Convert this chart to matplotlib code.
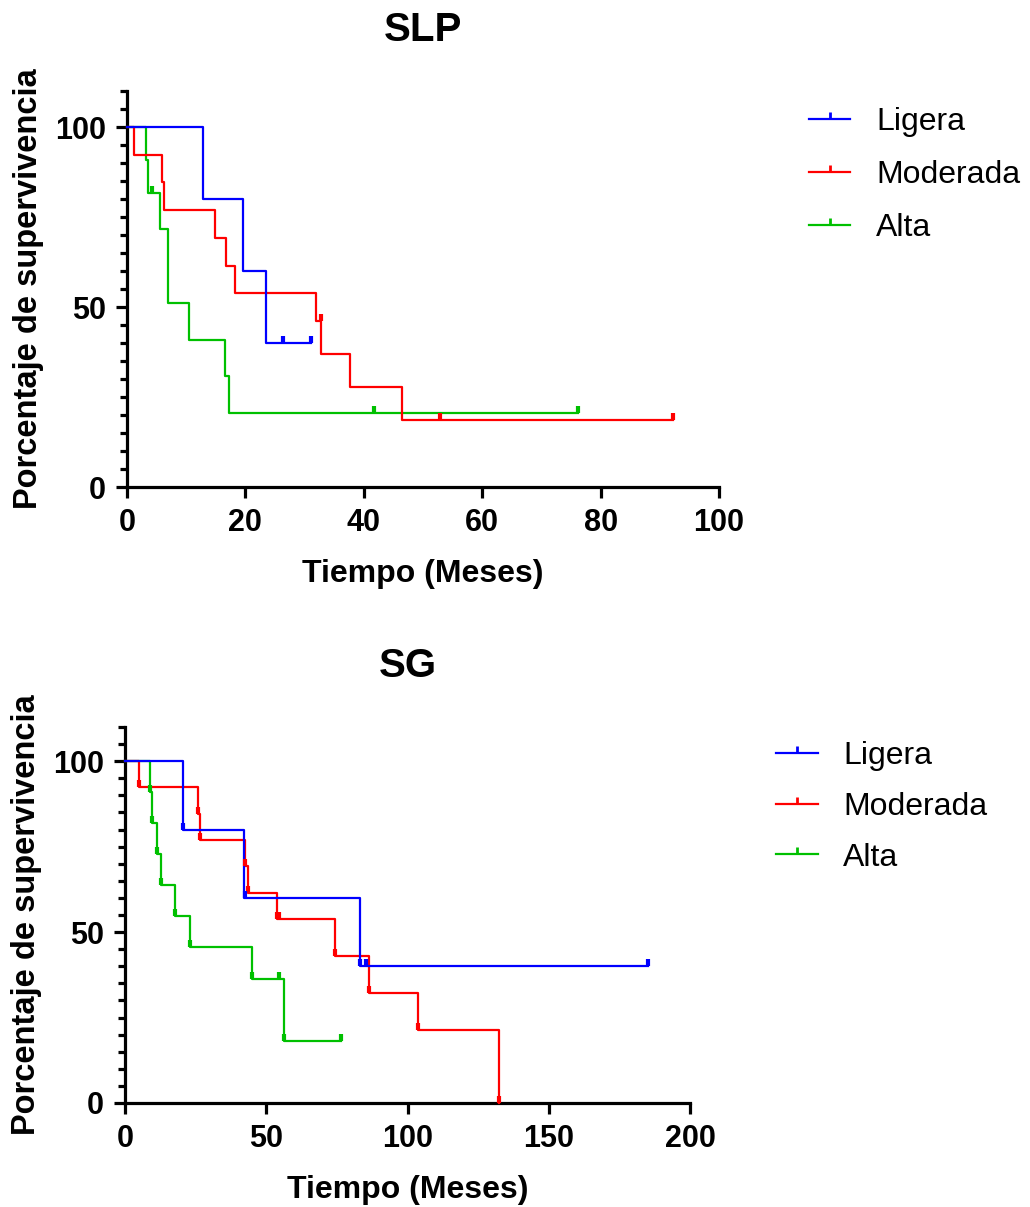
import matplotlib
matplotlib.use("Agg")
import matplotlib.pyplot as plt
from matplotlib.lines import Line2D

plt.rcParams["font.family"] = ["Liberation Sans", "DejaVu Sans"]

grupos = ["Ligera", "Moderada", "Alta"]
colores = ["#0000FF", "#FF0000", "#00C000"]

# SLP: tiempos de escalon y supervivencia (%)
slp_lig_t = [0, 12.9, 19.6, 23.5, 31.1]
slp_lig_s = [100, 80, 60, 40, 40]
slp_lig_ct = [26.4, 31.1]
slp_lig_cs = [40, 40]

slp_mod_t = [0, 1.1, 5.9, 6.25, 14.9, 16.7, 18.2, 32.0, 32.8, 37.7, 46.4, 92.2]
slp_mod_s = [100, 92.3, 84.6, 76.9, 69.2, 61.5, 53.8, 46.2, 36.9, 27.7, 18.5, 18.5]
slp_mod_ct = [32.7, 52.9, 92.2]
slp_mod_cs = [46.2, 18.5, 18.5]

slp_alt_t = [0, 3.2, 3.6, 5.5, 7.0, 10.4, 16.5, 17.3, 76.2]
slp_alt_s = [100, 90.9, 81.8, 71.6, 51.1, 40.9, 30.7, 20.5, 20.5]
slp_alt_ct = [4.2, 41.7, 76.2]
slp_alt_cs = [81.8, 20.5, 20.5]

# SG
sg_lig_t = [0, 20.4, 42.2, 83.2, 185.1]
sg_lig_s = [100, 80, 60, 40, 40]
sg_lig_ct = [20.4, 42.5, 83.2, 85.3, 185.1]
sg_lig_cs = [80, 60, 40, 40, 40]

sg_mod_t = [0, 4.96, 25.7, 26.5, 42.5, 43.4, 53.7, 74.3, 86.5, 103.8, 132.4]
sg_mod_s = [100, 92.3, 84.6, 76.9, 69.2, 61.5, 53.8, 43.0, 32.2, 21.4, 0]
sg_mod_ct = [4.96, 25.7, 26.5, 42.5, 43.4, 53.7, 54.5, 74.3, 86.5, 103.8, 132.4]
sg_mod_cs = [92.3, 84.6, 76.9, 69.2, 61.5, 53.8, 53.8, 43.0, 32.2, 21.4, 0]

sg_alt_t = [0, 8.7, 9.4, 11.2, 12.6, 17.7, 23.0, 44.8, 56.3, 76.3]
sg_alt_s = [100, 91.0, 82.0, 72.9, 63.8, 54.6, 45.5, 36.4, 18.2, 18.2]
sg_alt_ct = [8.7, 9.4, 11.2, 12.6, 17.7, 23.0, 44.8, 54.4, 56.3, 76.3]
sg_alt_cs = [91.0, 82.0, 72.9, 63.8, 54.6, 45.5, 36.4, 36.4, 18.2, 18.2]

tick_up = [(0, 0), (0, 1)]


def panel(ax, curvas, titulo, xmax, xstep, leg_anchor, leg_space):
    # dibujar verde, rojo, azul (azul encima)
    for (t, s, ct, cs), color in list(zip(curvas, colores))[::-1]:
        ax.step(t, s, where="post", color=color, lw=1.6, clip_on=False, zorder=3)
        ax.plot(ct, cs, ls="none", marker=tick_up, ms=10, mew=3,
                color=color, clip_on=False, zorder=4)
    ax.set_xlim(0, xmax)
    ax.set_ylim(0, 110)
    ax.set_xticks(range(0, xmax + 1, xstep))
    ax.set_yticks([0, 50, 100])
    ax.set_yticks(range(0, 111, 5), minor=True)
    for side in ["top", "right"]:
        ax.spines[side].set_visible(False)
    for side in ["left", "bottom"]:
        ax.spines[side].set_linewidth(2.3)
    ax.tick_params(which="major", length=8, width=2.3, labelsize=22, pad=7)
    ax.tick_params(which="minor", length=5, width=2.3)
    for lab in ax.get_xticklabels() + ax.get_yticklabels():
        lab.set_fontweight("bold")
    ax.set_title(titulo, fontsize=29, fontweight="bold", pad=36)
    ax.set_xlabel("Tiempo (Meses)", fontsize=23, fontweight="bold", labelpad=15)
    ax.set_ylabel("Porcentaje de supervivencia", fontsize=23.5, fontweight="bold", labelpad=8)

    handles = [Line2D([], [], color=c, lw=1.6, marker=tick_up, ms=10, mew=2)
               for c in colores]
    ax.legend(handles, grupos, loc="upper left", bbox_to_anchor=leg_anchor,
              bbox_transform=ax.figure.transFigure, frameon=False, fontsize=23,
              handlelength=1.3, handletextpad=0.8, labelspacing=leg_space,
              borderpad=0, borderaxespad=0, numpoints=1)


fig = plt.figure(figsize=(10.3, 12.07), dpi=100)
ax1 = fig.add_axes([0.1233, 0.5965, 0.5748, 0.3281])
ax2 = fig.add_axes([0.1214, 0.0862, 0.5485, 0.3115])

panel(ax1, [(slp_lig_t, slp_lig_s, slp_lig_ct, slp_lig_cs),
            (slp_mod_t, slp_mod_s, slp_mod_ct, slp_mod_cs),
            (slp_alt_t, slp_alt_s, slp_alt_ct, slp_alt_cs)],
      "SLP", 100, 20, (0.7854, 0.9114), 0.72)
panel(ax2, [(sg_lig_t, sg_lig_s, sg_lig_ct, sg_lig_cs),
            (sg_mod_t, sg_mod_s, sg_mod_ct, sg_mod_cs),
            (sg_alt_t, sg_alt_s, sg_alt_ct, sg_alt_cs)],
      "SG", 200, 50, (0.7534, 0.3861), 0.65)

fig.savefig("out.png", dpi=100)
